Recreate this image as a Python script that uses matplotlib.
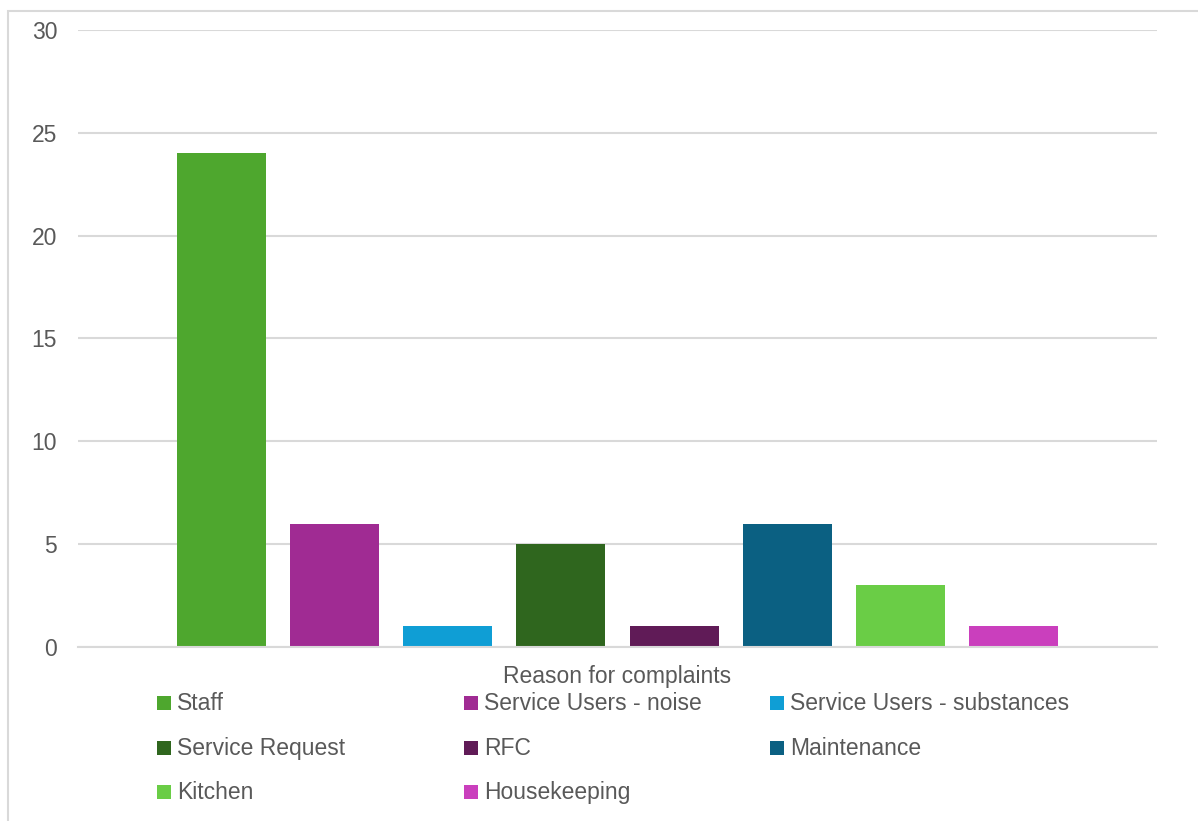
import matplotlib.pyplot as plt
import numpy as np
from matplotlib.patches import Rectangle

plt.rcParams['font.family'] = ['Liberation Sans', 'DejaVu Sans']

reasons = ['Staff', 'Service Users - noise', 'Service Users - substances',
           'Service Request', 'RFC', 'Maintenance', 'Kitchen', 'Housekeeping']
counts = [24, 6, 1, 5, 1, 6, 3, 1]
colors = ['#4EA72E', '#A02B93', '#0F9ED5', '#2F661E', '#601B57', '#0B6082',
          '#6ACD46', '#CA3FBD']
y_ticks = [0, 5, 10, 15, 20, 25, 30]

W, H = 1198, 821
text_col = '#595959'
grid_col = '#D9D9D9'
fs = 16.5

fig = plt.figure(figsize=(W / 100, H / 100), dpi=100)
ax = fig.add_axes([78 / W, 1 - 647 / H, 1079 / W, 617 / H])

x = np.arange(len(reasons))
ax.bar(x, counts, width=0.786, color=colors, zorder=3)
ax.set_xlim(-1.263, 8.263)
ax.set_ylim(0, 30)
ax.set_yticks(y_ticks)
ax.set_xticks([])
ax.yaxis.grid(True, color=grid_col, linewidth=1.5, zorder=0)
ax.tick_params(axis='y', length=0, pad=15, labelsize=fs, labelcolor=text_col)
for s in ['top', 'right', 'left']:
    ax.spines[s].set_visible(False)
ax.spines['bottom'].set_color(grid_col)
ax.spines['bottom'].set_linewidth(1.5)
ax.spines['bottom'].set_zorder(4)

fig.text(617.5 / W, 1 - 677 / H, 'Reason for complaints', ha='center',
         va='center', fontsize=fs, color=text_col)

# legend drawn by hand, three columns
col_x = [157, 464, 770]
row_y = [703, 748, 792]
for i, (name, c) in enumerate(zip(reasons, colors)):
    px = col_x[i % 3]
    py = row_y[i // 3]
    fig.add_artist(Rectangle((px / W, 1 - (py + 7) / H), 14 / W, 14 / H,
                             transform=fig.transFigure, facecolor=c,
                             edgecolor='none'))
    fig.text((px + 20) / W, 1 - py / H, name, ha='left', va='center',
             fontsize=fs, color=text_col)

# outer chart border (partly cut off in the reference)
fig.add_artist(Rectangle((8 / W, -0.05), 1.2, 1.05 - 11.5 / H,
                         transform=fig.transFigure, facecolor='none',
                         edgecolor=grid_col, linewidth=1.5))

fig.savefig('out.png', dpi=100)
